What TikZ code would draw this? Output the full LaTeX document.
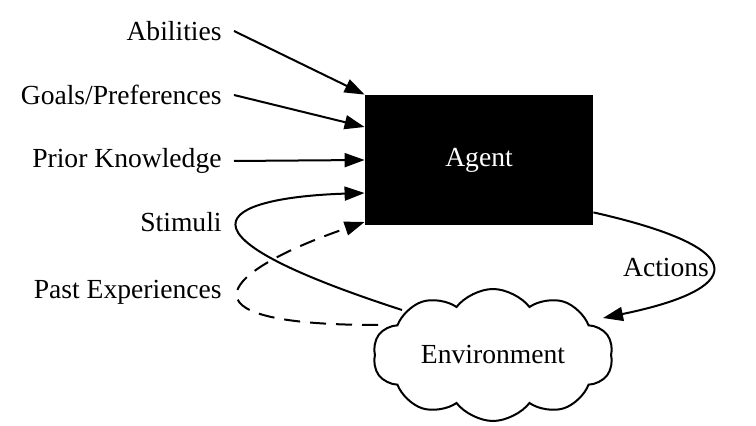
\documentclass[tikz,border=0pt]{standalone}
\usepackage{fontspec}
\setmainfont{Liberation Serif}
\usetikzlibrary{arrows.meta,shapes.symbols,calc}

\tikzset{
    lbl/.style={anchor=east, inner ysep=2pt, inner xsep=6pt, font=\fontsize{13.8}{16}\selectfont},
    feed/.style={line width=1pt, -{Triangle[length=10pt,width=7pt]}},
}

\begin{document}
\begin{tikzpicture}[x=0.5pt, y=-0.5pt]
            \useasboundingbox (0,0) rectangle (756,426);

            % agent box
            \node[fill=black, minimum width=114pt, minimum height=65pt, inner sep=0pt,
                  text=white, font=\fontsize{13.8}{16}\selectfont] (agent) at (479,160) {Agent};

            % environment cloud
            \node[cloud, draw, line width=1pt, cloud puffs=10, cloud puff arc=105, cloud ignores aspect,
                  minimum width=120pt, minimum height=66pt, inner sep=0pt,
                  font=\fontsize{13.8}{16}\selectfont] (env) at (493,355) {Environment};

            % inputs on the left
            \node[lbl] (abil) at (234,31) {Abilities};
            \node[lbl] (goals) at (234,95) {Goals/Preferences};
            \node[lbl] (prior) at (234,161) {Prior Knowledge};
            \node[lbl] (stim) at (234,222) {Stimuli};
            \node[lbl] (past) at (234,292) {Past Experiences};

            \draw[feed] (abil.east) -- (agent.north west);
            \draw[feed] (goals.east) -- ($(agent.west)+(0,-33)$);
            \draw[feed] (prior.east) -- (agent.west);

            % stimuli and past experiences loop back from the environment
            \draw[feed] ($(env.center)+(-91,-45)$) .. controls (140,225) and (240,197) .. ($(agent.west)+(0,33)$);
            \draw[feed, dashed, dash pattern=on 8pt off 5pt] ($(env.center)+(-115,-30)$) .. controls (165,325) and (225,270) .. ($(agent.west)+(0,62)$);

            % actions
            \node[font=\fontsize{13.8}{16}\selectfont] (act) at (666,268) {Actions};
            \draw[feed] ($(agent.south east)+(0,-13)$) .. controls (760,250) and (740,290) .. ($(env.center)+(110,-37)$);
        \end{tikzpicture}
\end{document}
